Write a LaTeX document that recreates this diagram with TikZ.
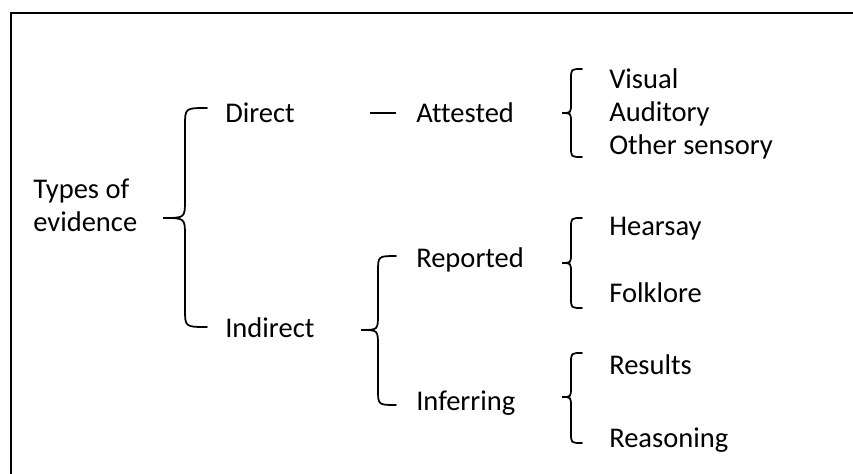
\documentclass[tikz,border=0pt]{standalone}
\usepackage{fontspec}
\setmainfont{Carlito}[Ligatures={NoCommon}]
\newcommand\evbrace[7]{%
  \draw[brc] (#3,#4) .. controls (#2,#4) .. (#2,#4+#7) -- (#2,#5-#7)
    .. controls (#2,#5) .. (#1,#5) .. controls (#2,#5) .. (#2,#5+#7)
    -- (#2,#6-#7) .. controls (#2,#6) .. (#3,#6);}
\begin{document}
\begin{tikzpicture}[x=0.75pt,y=-0.75pt,
  lbl/.style={anchor=base west,inner sep=0pt,font=\fontsize{21.4}{25}\selectfont},
  brc/.style={line width=1.3pt,line cap=round},
  frame/.style={line width=1.6pt}]
\useasboundingbox (0,0) rectangle (853,474);
\draw[frame] (11,474) -- (11,13) -- (853,13);
% labels
\node[lbl] (types) at (33,199) {Types of};
\node[lbl] (evid) at (33,231) {evidence};
\node[lbl] (direct) at (225,123) {Direct};
\node[lbl] (indirect) at (225,337) {Indirect};
\node[lbl] (attested) at (416,123) {Attested};
\node[lbl] (reported) at (416,267) {Reported};
\node[lbl] (inferring) at (416,410) {Inferring};
\node[lbl] (visual) at (609,89) {Visual};
\node[lbl] (auditory) at (609,122) {Auditory};
\node[lbl] (other) at (609,155) {Other sensory};
\node[lbl] (hearsay) at (609,235) {Hearsay};
\node[lbl] (folklore) at (609,302) {Folklore};
\node[lbl] (results) at (609,374) {Results};
\node[lbl] (reasoning) at (609,447) {Reasoning};
% dash between Direct and Attested
\coordinate (d1) at (370,113);
\coordinate (d2) at (396,113);
\draw[brc,line cap=butt] (d1) -- (d2);
% braces
\evbrace{163}{185}{207}{108}{218}{327}{18}
\evbrace{562}{571}{582}{69}{113}{157}{10}
\evbrace{361}{378}{396}{256}{330}{405}{16}
\evbrace{562}{571}{582}{218}{263}{308}{10}
\evbrace{562}{571}{582}{353}{397}{443}{10}
\end{tikzpicture}
\end{document}
